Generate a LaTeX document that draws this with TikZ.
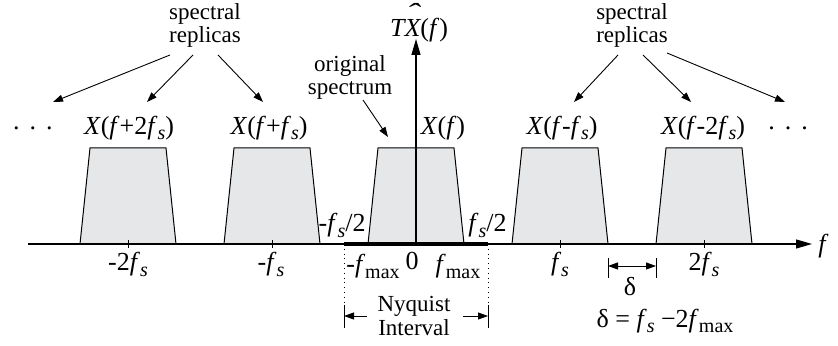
\documentclass[tikz,border=0pt]{standalone}
\usepackage{fontspec}
\usepackage{graphicx}
\setmainfont{Liberation Serif}
\usetikzlibrary{arrows.meta}
\definecolor{specgray}{RGB}{230,231,232}
\newcommand{\lowsub}[1]{\raisebox{-0.45ex}{\fontsize{10}{10}\selectfont #1}}
\newcommand{\fsamp}{\textit{f}\lowsub{\textit{s}}}
\newcommand{\fmaxi}{\textit{f}\lowsub{max}}

\begin{document}
\begin{tikzpicture}[
            x=0.5pt,
            y=-0.5pt,
            txt/.style={
                font=\fontsize{11.5}{11.5}\selectfont,
                align=center,
                inner sep=0pt
            },
            sym/.style={
                font=\fontsize{13}{14}\selectfont,
                inner sep=0pt
            },
            replica/.style={
                draw,
                fill=specgray,
                line width=0.5pt
            },
            pointer/.style={
                -{Triangle[length=5pt,width=3.5pt]},
                line width=0.45pt
            },
            bothways/.style={
                {Triangle[length=5pt,width=3.5pt]}-{Triangle[length=5pt,width=3.5pt]},
                line width=0.45pt
            },
            axis/.style={
                -{Triangle[length=8pt,width=4.5pt]},
                line width=0.6pt
            }
        ]
            \useasboundingbox (0,0) rectangle (838,346);
            \foreach \c in {128,272,416,560,704}
                \draw[replica] (\c-48,244) -- (\c-38,148) -- (\c+38,148) -- (\c+48,244) -- cycle;
            \foreach \c in {128,272,560,704}
                \draw[line width=0.5pt] (\c,240) -- (\c,248);
            \coordinate (fstart) at (28,244);
            \coordinate (fend) at (812,244);
            \coordinate (origin) at (416,244);
            \coordinate (ytop) at (416,39);
            \coordinate (nyqL) at (344,244);
            \coordinate (nyqR) at (488,244);
            \draw[axis] (fstart) -- (fend);
            \draw[axis] (origin) -- (ytop);
            \draw[line width=2pt] (nyqL) -- (nyqR);
            \node[sym, anchor=west] (faxis) at (818,246) {\textit{f}};
            \node[sym, anchor=base] (tx) at (419,37) {\textit{T\ooalign{X\cr\hidewidth\raisebox{0.6em}{\scalebox{1.6}[1]{\char"02C6}}\hidewidth\cr}}(\textit{f})};
            % spectra labels
            \node[sym] (dotsL) at (33,128) {.\hspace{5pt}.\hspace{5pt}.};
            \node[sym] (xp2) at (129,128) {\textit{X}(\textit{f}+2\fsamp)};
            \node[sym] (xp1) at (269,128) {\textit{X}(\textit{f}+\fsamp)};
            \node[sym] (x0) at (443,128) {\textit{X}(\textit{f})};
            \node[sym] (xm1) at (562,128) {\textit{X}(\textit{f}-\fsamp)};
            \node[sym] (xm2) at (703,128) {\textit{X}(\textit{f}-2\fsamp)};
            \node[sym] (dotsR) at (788,128) {.\hspace{5pt}.\hspace{5pt}.};
            \node[txt] (repL) at (205,25) {spectral\\replicas};
            \node[txt] (repR) at (632,25) {spectral\\replicas};
            \node[txt] (orig) at (350,77) {original\\spectrum};
            \coordinate (tipA) at (53,102);
            \coordinate (tipB) at (147,102);
            \coordinate (tipC) at (263,102);
            \coordinate (tipD) at (574,102);
            \coordinate (tipE) at (691,102);
            \coordinate (tipF) at (785,102);
            \coordinate (tipO) at (388,137);
            \draw[pointer] ([shift={(-35,30)}]repL.center) -- (tipA);
            \draw[pointer] ([shift={(-12,30)}]repL.center) -- (tipB);
            \draw[pointer] ([shift={(13,30)}]repL.center) -- (tipC);
            \draw[pointer] ([shift={(-14,30)}]repR.center) -- (tipD);
            \draw[pointer] ([shift={(11,30)}]repR.center) -- (tipE);
            \draw[pointer] ([shift={(35,28)}]repR.center) -- (tipF);
            \draw[pointer] ([shift={(13,23)}]orig.center) -- (tipO);
            % axis labels
            \node[sym, anchor=north] (m2fs) at (128,252) {-2\fsamp};
            \node[sym, anchor=north] (m1fs) at (271,252) {-\fsamp};
            \node[sym, anchor=north] (p1fs) at (560,252) {\fsamp};
            \node[sym, anchor=north] (p2fs) at (704,252) {2\fsamp};
            \node[sym, anchor=base east] (mhalf) at (366,232) {-\fsamp/2};
            \node[sym, anchor=base west] (phalf) at (468,232) {\fsamp/2};
            \node[sym, anchor=north] (mfmax) at (373,254) {-\fmaxi};
            \node[sym, anchor=north] (zero) at (412,252) {0};
            \node[sym, anchor=north] (pfmax) at (458,254) {\fmaxi};
            % guard band
            \coordinate (gapL) at (608,266);
            \coordinate (gapR) at (656,266);
            \draw[line width=0.5pt] (608,258) -- (608,278);
            \draw[line width=0.5pt] (656,258) -- (656,278);
            \draw[bothways] (gapL) -- (gapR);
            \node[sym] (delta) at (630,287) {δ};
            \node[sym] (deltaeq) at (665,321) {δ = \fsamp\ −2\fmaxi};
            % Nyquist interval
            \coordinate (nyqLb) at (344,305);
            \coordinate (nyqRb) at (488,305);
            \draw[dotted, line width=0.4pt] (nyqL) -- (nyqLb);
            \draw[dotted, line width=0.4pt] (nyqR) -- (nyqRb);
            \draw[line width=0.5pt] (nyqLb) -- (344,328);
            \draw[line width=0.5pt] (nyqRb) -- (488,328);
            \node[txt, font=\fontsize{11.5}{12}\selectfont] (nyq) at (414,316) {Nyquist\\Interval};
            \draw[pointer] (367,316) -- (344,316);
            \draw[pointer] (463,316) -- (488,316);
        \end{tikzpicture}
\end{document}
